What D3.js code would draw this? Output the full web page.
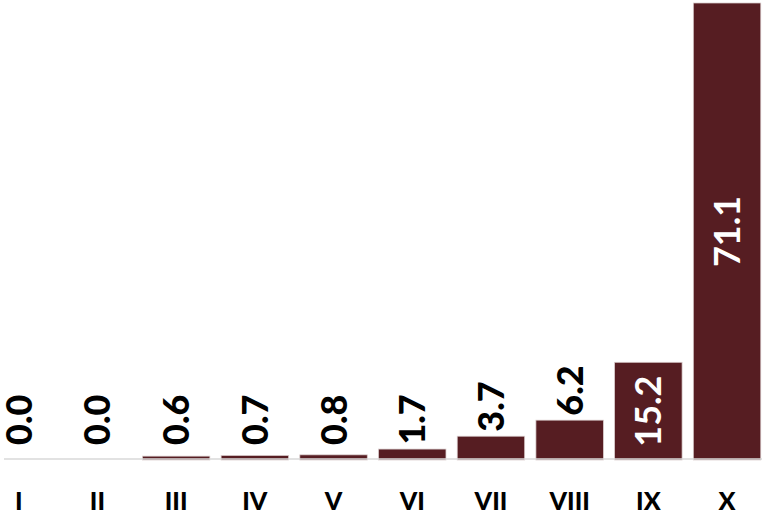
<!DOCTYPE html>
<html>
<head>
<meta charset="utf-8">
<script src="https://cdn.jsdelivr.net/npm/d3@7"></script>
<style>
  html, body { margin: 0; padding: 0; background: #ffffff; }
  svg { display: block; }
</style>
</head>
<body>
<svg id="chart" width="762" height="518"></svg>
<script>
const categories = ["I", "II", "III", "IV", "V", "VI", "VII", "VIII", "IX", "X"];
const values = [0.0, 0.0, 0.6, 0.7, 0.8, 1.7, 3.7, 6.2, 15.2, 71.1];
const valueLabels = ["0.0", "0.0", "0.6", "0.7", "0.8", "1.7", "3.7", "6.2", "15.2", "71.1"];

const W = 762, H = 518;
const baseY = 460, topY = 3;
const barColor = "#561d22";
const fontFamily = "Lato, 'Open Sans', 'Liberation Sans', sans-serif";

const svg = d3.select("#chart");

const x = d3.scaleBand()
  .domain(categories)
  .range([-20.6, 766.4])
  .paddingInner(0.143)
  .paddingOuter(0.0715);

const y = d3.scaleLinear()
  .domain([0, 71.1])
  .range([baseY, topY]);

const data = categories.map((c, i) => ({ cat: c, v: values[i], label: valueLabels[i] }));

// bars
svg.append("g").selectAll("rect")
  .data(data)
  .enter().append("rect")
  .attr("x", d => x(d.cat))
  .attr("width", x.bandwidth())
  .attr("y", d => y(d.v))
  .attr("height", d => baseY - y(d.v))
  .attr("fill", barColor)
  .attr("stroke", d => d.v > 0 ? "#d9cccc" : "none")
  .attr("stroke-width", 0.75);

// axis baseline
svg.append("line")
  .attr("x1", 4).attr("x2", W)
  .attr("y1", 459).attr("y2", 459)
  .attr("stroke", "#d9d9d9")
  .attr("stroke-width", 1.5);

// x axis labels
const xAxis = d3.axisBottom(x).tickSize(0).tickPadding(0);
const gx = svg.append("g").call(xAxis);
gx.select(".domain").remove();
gx.selectAll("text")
  .attr("y", 510)
  .attr("dy", null)
  .attr("fill", "#000")
  .style("font-family", fontFamily)
  .style("font-weight", "900")
  .style("font-size", "25px");

// value labels (rotated)
const insideThreshold = 80;
svg.append("g").selectAll("text")
  .data(data)
  .enter().append("text")
  .each(function(d) {
    const cx = x(d.cat) + x.bandwidth() / 2;
    const barH = baseY - y(d.v);
    const inside = barH > insideThreshold;
    const t = d3.select(this);
    if (inside) {
      const cy = (y(d.v) + baseY) / 2;
      t.attr("transform", `translate(${cx},${cy}) rotate(-90)`)
       .attr("text-anchor", "middle")
       .attr("fill", "#ffffff");
    } else {
      const sy = Math.min(445, y(d.v) - 4.5);
      t.attr("transform", `translate(${cx},${sy}) rotate(-90)`)
       .attr("text-anchor", "start")
       .attr("fill", "#000000");
    }
  })
  .attr("dy", "0.36em")
  .style("font-family", fontFamily)
  .style("font-weight", d => (baseY - y(d.v)) > insideThreshold ? "bold" : "900")
  .style("font-size", "36px")
  .text(d => d.label);
</script>
</body>
</html>
